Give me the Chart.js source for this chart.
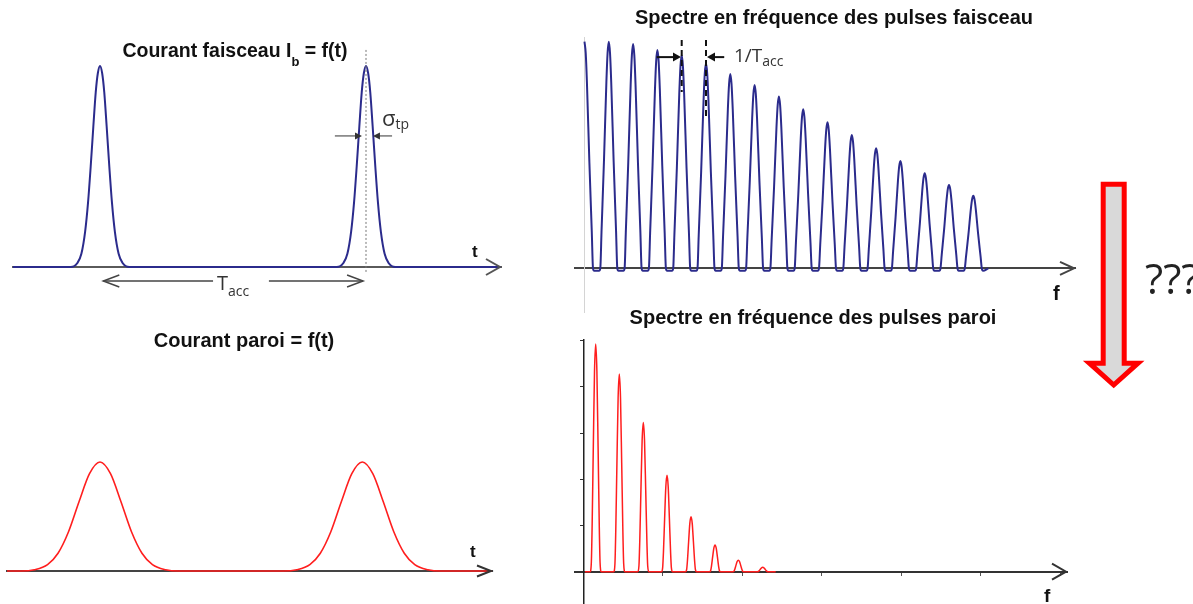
<!DOCTYPE html>
<html>
<head>
<meta charset="utf-8">
<script src="https://cdn.jsdelivr.net/npm/chart.js@4.4.1/dist/chart.umd.min.js"></script>
<style>
  body { margin: 0; width: 1193px; height: 604px; overflow: hidden; background: #fff; position: relative;
         font-family: "Liberation Sans", Arial, sans-serif; }
  canvas { position: absolute; }
  .lbl { position: absolute; line-height: 0; white-space: nowrap; color: #111; }
  .ttl { font-weight: bold; font-size: 20px; transform: translateX(-50%); }
  .axl { font-weight: bold; }
  .note { font-family: "Open Sans", sans-serif; color: #333; }
  .sub { position: relative; }
</style>
</head>
<body>
<canvas id="beamTime" width="530" height="305" style="left:0;top:0"></canvas>
<canvas id="beamSpectrum" width="530" height="320" style="left:560px;top:0"></canvas>
<canvas id="wallTime" width="530" height="304" style="left:0;top:300px"></canvas>
<canvas id="wallSpectrum" width="530" height="304" style="left:560px;top:300px"></canvas>

<div class="lbl ttl" style="left:235px;top:50px;font-size:19.5px">Courant faisceau I<span class="sub" style="font-size:13px;top:9px">b</span> = f(t)</div>
<div class="lbl ttl" style="left:834px;top:17px">Spectre en fréquence des pulses faisceau</div>
<div class="lbl ttl" style="left:244px;top:340px">Courant paroi = f(t)</div>
<div class="lbl ttl" style="left:813px;top:317px">Spectre en fréquence des pulses paroi</div>

<div class="lbl axl" style="left:472px;top:252px;font-size:17px">t</div>
<div class="lbl axl" style="left:1053px;top:293px;font-size:20px">f</div>
<div class="lbl axl" style="left:470px;top:552px;font-size:17px">t</div>
<div class="lbl axl" style="left:1044px;top:596px;font-size:19px">f</div>

<div class="lbl note" style="left:382px;top:117px;font-size:22px">σ<span class="sub" style="font-size:14px;top:3px">tp</span></div>
<div class="lbl note" style="left:217px;top:283px;font-size:20px">T<span class="sub" style="font-size:14px;top:6px">acc</span></div>
<div class="lbl note" style="left:734px;top:55px;font-size:19px">1/T<span class="sub" style="font-size:14px;top:4px">acc</span></div>
<div class="lbl note" style="left:1145px;top:278px;font-size:42px;color:#222">???</div>

<svg width="1193" height="604" style="position:absolute;left:0;top:0">
  <polygon points="1103.2,184.2 1124.2,184.2 1124.2,363.2 1138,363.2 1113.7,385 1089.4,363.2 1103.2,363.2"
           fill="#d9d9d9" stroke="#ff0000" stroke-width="5" stroke-linejoin="miter"/>
</svg>

<script>
// ---- beam current (top left): two pulses one T_acc apart, t in units of T_acc
const beamPulseTimes = [0, 1];
const beamPulseHeights = [1, 1];
// half pulse: [offset in T_acc, fraction of peak]
const beamPulseShape = [[-0.11, 0], [-0.085, 0.02], [-0.07, 0.066], [-0.056, 0.175], [-0.045, 0.32],
                        [-0.035, 0.5], [-0.025, 0.7], [-0.016, 0.87], [-0.008, 0.965], [0, 1]];
const beamTimeRange = [-0.33, 1.51];

// ---- beam spectrum (top right): harmonics of 1/T_acc
const beamHarmonics = [0, 1, 2, 3, 4, 5, 6, 7, 8, 9, 10, 11, 12, 13, 14, 15, 16];
const beamSpectrumHeights = [1.0, 1.0, 0.99, 0.963, 0.94, 0.905, 0.857, 0.809, 0.758, 0.702,
                             0.644, 0.588, 0.53, 0.474, 0.419, 0.368, 0.32];
const beamLineShape = [[-0.35, 0], [-0.3, 0.16], [-0.2, 0.47], [-0.1, 0.82], [-0.05, 0.95], [0, 1]];
const beamTroughLevel = -0.011;
const beamTroughSpan = [0.4, 0.6];
const beamSpectrumEnd = 16.62;

// ---- wall current (bottom left)
const wallPulseTimes = [0, 1];
const wallPulseHeights = [1, 1];
const wallPulseShape = [[-0.3, 0], [-0.25, 0.012], [-0.2, 0.059], [-0.16, 0.163], [-0.12, 0.36],
                        [-0.08, 0.635], [-0.04, 0.893], [0, 1]];
const wallTimeRange = [-0.36, 1.5];

// ---- wall spectrum (bottom right)
const wallPeakFreqs = [0.156, 0.453, 0.755, 1.053, 1.355, 1.657, 1.95, 2.257];
const wallPeakHeights = [4.93, 4.28, 3.23, 2.09, 1.19, 0.58, 0.25, 0.095];
const wallLineShape = [[-0.07, 0], [-0.055, 0.04], [-0.045, 0.2], [-0.03, 0.55], [-0.015, 0.88], [0, 1]];
const wallTraceRange = [0.02, 2.42];

const BLUE = '#2b2b8c';
const RED = '#ff1e1e';

function mirror(half) {
    return half.concat(half.slice(0, -1).reverse().map(([d, f]) => [-d, f]));
}

function pulseTrain(centres, heights, halfShape, range) {
    const shape = mirror(halfShape);
    const pts = [{x: range[0], y: 0}];
    centres.forEach((c, i) => shape.forEach(([d, f]) => pts.push({x: c + d, y: heights[i] * f})));
    pts.push({x: range[1], y: 0});
    return pts;
}

function beamSpectrumPoints() {
    const shape = mirror(beamLineShape);
    const pts = [];
    beamHarmonics.forEach((n, i) => {
        shape.forEach(([d, f]) => {
            if (n + d >= 0) pts.push({x: n + d, y: beamSpectrumHeights[i] * f});
        });
        pts.push({x: n + beamTroughSpan[0], y: beamTroughLevel});
        if (i < beamHarmonics.length - 1) pts.push({x: n + beamTroughSpan[1], y: beamTroughLevel});
    });
    pts.push({x: beamSpectrumEnd, y: 0});
    return pts;
}

// --- drawing helpers for the arrows and marks around the plots
function dataPx(chart, x, y) {
    return [chart.scales.x.getPixelForValue(x), chart.scales.y.getPixelForValue(y)];
}
function strokeLine(ctx, pts, color, width, dash) {
    ctx.save();
    ctx.strokeStyle = color;
    ctx.lineWidth = width;
    ctx.setLineDash(dash || []);
    ctx.beginPath();
    pts.forEach((p, i) => i ? ctx.lineTo(p[0], p[1]) : ctx.moveTo(p[0], p[1]));
    ctx.stroke();
    ctx.restore();
}
function axisChevron(chart, len, half, color, width) {
    const a = chart.chartArea;
    const y0 = chart.scales.y.getPixelForValue(0);
    strokeLine(chart.ctx, [[a.right - len, y0 - half], [a.right - 1, y0], [a.right - len, y0 + half]], color, width);
}
function openArrow(ctx, from, to, len, half, color, width) {
    const s = Math.sign(to[0] - from[0]);
    strokeLine(ctx, [from, to], color, width);
    strokeLine(ctx, [[to[0] - s * len, to[1] - half], to, [to[0] - s * len, to[1] + half]], color, width);
}
function solidArrow(ctx, from, to, len, half, color, width) {
    const s = Math.sign(to[0] - from[0]);
    strokeLine(ctx, [from, [to[0] - s * len * 0.5, to[1]]], color, width);
    ctx.save();
    ctx.fillStyle = color;
    ctx.beginPath();
    ctx.moveTo(to[0], to[1]);
    ctx.lineTo(to[0] - s * len, to[1] - half);
    ctx.lineTo(to[0] - s * len, to[1] + half);
    ctx.closePath();
    ctx.fill();
    ctx.restore();
}

function baseOptions(xr, yr, pad, xAxis, yAxis) {
    return {
        responsive: false,
        animation: false,
        events: [],
        layout: { padding: pad },
        plugins: { legend: { display: false }, tooltip: { enabled: false }, title: { display: false } },
        elements: { point: { radius: 0 } },
        scales: {
            x: Object.assign({
                type: 'linear', min: xr[0], max: xr[1], position: { y: 0 },
                ticks: { display: false }, grid: { display: false },
                border: { display: true, color: '#555', width: 2 }
            }, xAxis),
            y: Object.assign({ type: 'linear', min: yr[0], max: yr[1], display: false }, yAxis)
        }
    };
}

function lineSet(points, color, width) {
    return {
        data: points,
        borderColor: color,
        borderWidth: width,
        pointRadius: 0,
        fill: false,
        cubicInterpolationMode: 'monotone'
    };
}

// Courant faisceau
new Chart(document.getElementById('beamTime'), {
    type: 'line',
    data: { datasets: [lineSet(pulseTrain(beamPulseTimes, beamPulseHeights, beamPulseShape, beamTimeRange), BLUE, 2)] },
    options: baseOptions([-0.32707, 1.50752], [-0.13930, 1.12935], { left: 13, right: 29, top: 40, bottom: 10 },
                         { border: { display: true, color: '#5a5a5a', width: 2 } }, {}),
    plugins: [{
        id: 'beamTimeMarks',
        afterDraw(chart) {
            const ctx = chart.ctx;
            axisChevron(chart, 15, 8, '#555', 2);
            const tp = beamPulseTimes[1];
            strokeLine(ctx, [dataPx(chart, tp, 1.08), dataPx(chart, tp, -0.03)], '#777', 1, [2, 2]);
            solidArrow(ctx, dataPx(chart, 0.883, 0.652), dataPx(chart, 0.985, 0.652), 7, 3.5, '#333', 1);
            solidArrow(ctx, dataPx(chart, 1.098, 0.652), dataPx(chart, 1.026, 0.652), 7, 3.5, '#333', 1);
            openArrow(ctx, dataPx(chart, 0.425, -0.0697), dataPx(chart, 0.0124, -0.0697), 16, 6, '#444', 1.5);
            openArrow(ctx, dataPx(chart, 0.635, -0.0697), dataPx(chart, 0.989, -0.0697), 16, 6, '#444', 1.5);
        }
    }]
});

// Spectre faisceau
new Chart(document.getElementById('beamSpectrum'), {
    type: 'line',
    data: { datasets: [lineSet(beamSpectrumPoints(), BLUE, 2)] },
    options: baseOptions([-0.39095, 20.185], [-0.19285, 1.02074], { left: 15, right: 15, top: 37, bottom: 8 },
                         { border: { display: true, color: '#444', width: 2 } },
                         { display: true, position: { x: 0 }, ticks: { display: false }, grid: { display: false },
                           border: { display: true, color: '#d4d4d4', width: 1 } }),
    plugins: [{
        id: 'beamSpectrumMarks',
        afterDraw(chart) {
            const ctx = chart.ctx;
            axisChevron(chart, 15, 6.5, '#444', 2);
            strokeLine(ctx, [dataPx(chart, 4, 1.0075), dataPx(chart, 4, 0.778)], '#111', 2, [6, 4]);
            strokeLine(ctx, [dataPx(chart, 5, 1.0075), dataPx(chart, 5, 0.663)], '#111', 2, [6, 4]);
            solidArrow(ctx, dataPx(chart, 2.97, 0.932), dataPx(chart, 3.97, 0.932), 8, 4.5, '#111', 2);
            solidArrow(ctx, dataPx(chart, 5.75, 0.932), dataPx(chart, 5.04, 0.932), 8, 4.5, '#111', 2);
        }
    }]
});

// Courant paroi
new Chart(document.getElementById('wallTime'), {
    type: 'line',
    data: { datasets: [lineSet(pulseTrain(wallPulseTimes, wallPulseHeights, wallPulseShape, wallTimeRange), RED, 1.6)] },
    options: baseOptions([-0.35456, 1.49447], [-0.22018, 1.20183], { left: 7, right: 38, top: 140, bottom: 9 },
                         { border: { display: true, color: '#444', width: 2 } }, {}),
    plugins: [{
        id: 'wallTimeMarks',
        afterDraw(chart) { axisChevron(chart, 15, 5.5, '#333', 2); }
    }]
});

// Spectre paroi
const wallPeaks = [{x: wallTraceRange[0], y: 0}]
    .concat(pulseTrain(wallPeakFreqs, wallPeakHeights, wallLineShape, wallTraceRange).slice(1, -1))
    .concat([{x: wallTraceRange[1], y: 0}]);
new Chart(document.getElementById('wallSpectrum'), {
    type: 'line',
    data: { datasets: [lineSet(wallPeaks, RED, 1.5)] },
    options: baseOptions([-0.1044, 6.0843], [-0.6991, 5.0152], { left: 15, right: 23, top: 40, bottom: 0 },
                         { border: { display: true, color: '#333', width: 2 },
                           ticks: { display: false, stepSize: 1, includeBounds: false },
                           grid: { display: true, drawOnChartArea: false, drawTicks: true, tickLength: 3, color: '#555', lineWidth: 1 } },
                         { display: true, position: { x: 0 },
                           ticks: { display: false, stepSize: 1, includeBounds: false },
                           grid: { display: true, drawOnChartArea: false, drawTicks: true, tickLength: 3, color: '#333', lineWidth: 1 },
                           border: { display: true, color: '#222', width: 1.5 } }),
    plugins: [{
        id: 'wallSpectrumMarks',
        afterDraw(chart) { axisChevron(chart, 15, 8, '#333', 2); }
    }]
});
</script>
</body>
</html>
